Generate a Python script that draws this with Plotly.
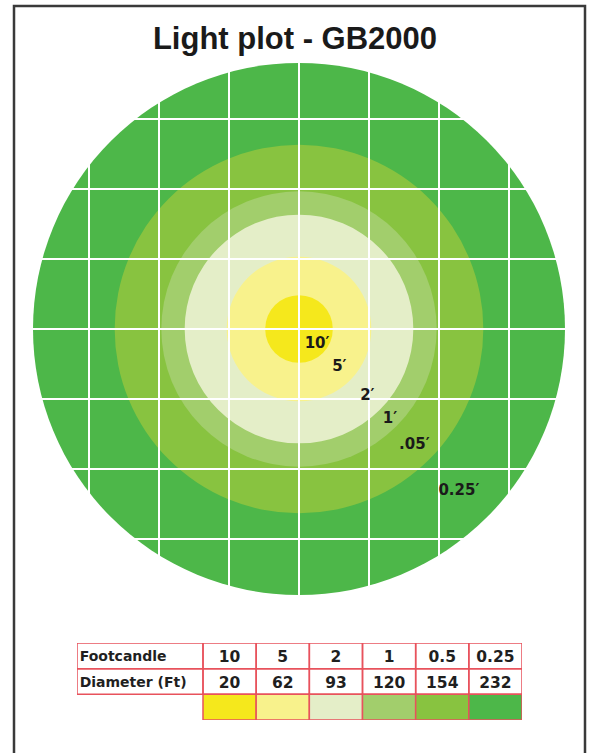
import math
import plotly.graph_objects as go

# ---- data ----
footcandle = [10, 5, 2, 1, 0.5, 0.25]
footcandle_txt = ["10", "5", "2", "1", "0.5", "0.25"]
diameter_ft = [20, 62, 93, 120, 154, 232]
ring_radius_ft = [14.5, 31, 49, 59, 79, 114]      # radii as drawn in the picture (ft)
ring_labels = ["10′", "5′", "2′", "1′", ".05′", "0.25′"]
ring_colors = ["#f5e81c", "#f8f28c", "#e4eec8", "#a2ce6c", "#88c340", "#4db749"]
grid_ft = 30
row_labels = ["Footcandle", "Diameter (Ft)"]

W, H = 590, 753
PXFT = 70 / 30.0
cx_px, cy_px = 299, 329
top_px, bot_px = 50, 610

fig = go.Figure()

xr = [(0 - cx_px) / PXFT, (W - cx_px) / PXFT]
yr = [(cy_px - bot_px) / PXFT, (cy_px - top_px) / PXFT]

shapes = []
for r, c in sorted(zip(ring_radius_ft, ring_colors), key=lambda t: -t[0]):
    shapes.append(dict(type="circle", xref="x", yref="y", x0=-r, x1=r, y0=-r, y1=r,
                       fillcolor=c, line=dict(width=0), layer="below"))

ang = math.radians(-46)
lx, ly = [], []
prev = 0
for r in ring_radius_ft:
    m = (prev + r) / 2
    if prev == 0:
        m = r * 0.62
    lx.append(m * math.cos(ang) + 1.5)
    ly.append(m * math.sin(ang))
    prev = r
fig.add_trace(go.Scatter(x=lx, y=ly, mode="text", text=ring_labels,
                         textfont=dict(family="DejaVu Sans", size=15, color="#1a1a1a", weight="bold"),
                         textposition="middle center", hoverinfo="skip", showlegend=False,
                         xaxis="x", yaxis="y"))

# ---- table on its own axes ----
lab_w = 2.37
tbl_line = dict(color="#e8525c", width=1.5)
for i in range(len(footcandle)):
    for row in range(2):
        shapes.append(dict(type="rect", xref="x2", yref="y2", x0=i, x1=i + 1, y0=row, y1=row + 1,
                           fillcolor="rgba(0,0,0,0)", line=tbl_line, layer="above"))
    shapes.append(dict(type="rect", xref="x2", yref="y2", x0=i, x1=i + 1, y0=2, y1=3,
                       fillcolor=ring_colors[i], line=tbl_line, layer="above"))
for row in range(2):
    shapes.append(dict(type="rect", xref="x2", yref="y2", x0=-lab_w, x1=0, y0=row, y1=row + 1,
                       fillcolor="rgba(0,0,0,0)", line=tbl_line, layer="above"))

cols = [i + 0.5 for i in range(len(footcandle))]
fig.add_trace(go.Scatter(x=cols + cols, y=[0.58] * 6 + [1.6] * 6, mode="text",
                         text=footcandle_txt + [str(d) for d in diameter_ft],
                         textfont=dict(family="DejaVu Sans", size=15.5, color="#1f1f1f", weight="bold"),
                         textposition="middle center", hoverinfo="skip", showlegend=False,
                         xaxis="x2", yaxis="y2"))
fig.add_trace(go.Scatter(x=[-lab_w + 0.05] * 2, y=[0.55, 1.57], mode="text", text=row_labels,
                         textfont=dict(family="DejaVu Sans", size=14, color="#1f1f1f", weight="bold"),
                         textposition="middle right", hoverinfo="skip", showlegend=False,
                         xaxis="x2", yaxis="y2"))

annotations = [dict(xref="x2", yref="y2", x=6, y=-0.6, text="1 Grid = %d′" % grid_ft,
                    showarrow=False, xanchor="right", yanchor="middle",
                    font=dict(family="DejaVu Sans", size=12.5, color="#1f1f1f", weight="bold"))]

shapes.append(dict(type="rect", xref="paper", yref="paper", x0=14 / W, x1=585 / W,
                   y0=-0.02, y1=1 - 6 / H, line=dict(color="#3a3a3a", width=2.5),
                   fillcolor="rgba(0,0,0,0)", layer="above"))

fig.update_layout(
    width=W, height=H, margin=dict(l=0, r=0, t=0, b=0),
    paper_bgcolor="white", plot_bgcolor="white",
    title=dict(text="<b>Light plot - GB2000</b>", x=0.5, xanchor="center",
               y=1 - 38 / H, yanchor="middle", yref="paper",
               font=dict(family="Liberation Sans, Arial", size=31, color="#1a1a1a")),
    xaxis=dict(domain=[0, 1], range=xr, showticklabels=False, zeroline=False,
               showgrid=True, gridcolor="white", gridwidth=2, tick0=0, dtick=grid_ft,
               ticks="", showline=False, fixedrange=True),
    yaxis=dict(domain=[1 - bot_px / H, 1 - top_px / H], range=yr, showticklabels=False,
               zeroline=False, showgrid=True, gridcolor="white", gridwidth=2, tick0=0,
               dtick=grid_ft, ticks="", showline=False, fixedrange=True),
    xaxis2=dict(domain=[77 / W, 522 / W], range=[-lab_w, 6], visible=False, fixedrange=True),
    yaxis2=dict(domain=[1 - 720 / H, 1 - 643 / H], range=[3, 0], visible=False, fixedrange=True),
    shapes=shapes, annotations=annotations, showlegend=False,
)

fig.write_html("out.html", config={"displayModeBar": False},
               post_script="document.body.style.margin='0';document.body.style.overflow='hidden';")
